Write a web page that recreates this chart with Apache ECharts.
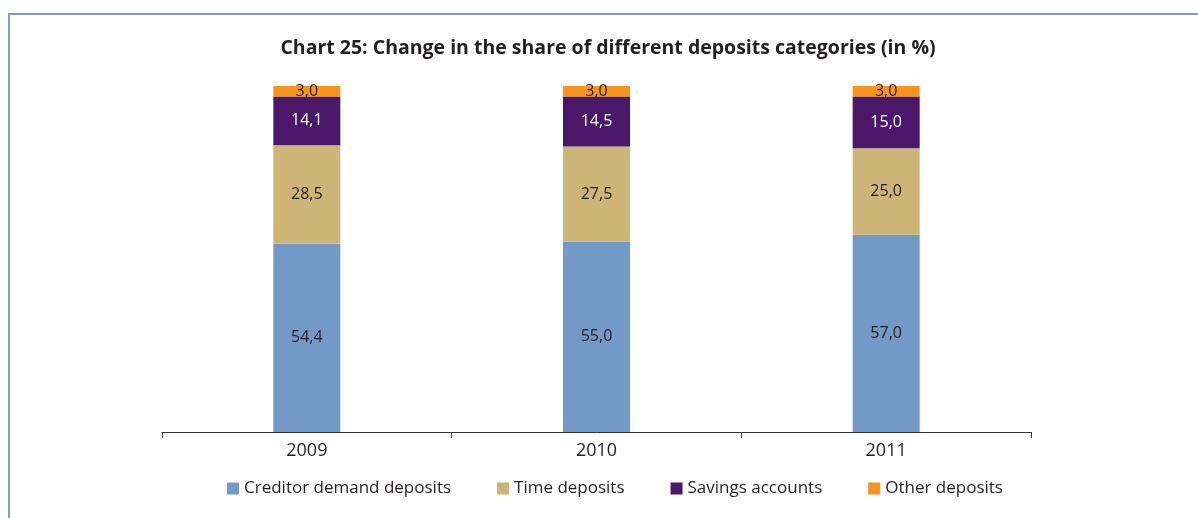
<!DOCTYPE html>
<html>
<head>
<meta charset="utf-8">
<script src="https://cdn.jsdelivr.net/npm/echarts@6/dist/echarts.min.js"></script>
<style>
    html, body { margin: 0; padding: 0; background: #fff; }
    #main { width: 1198px; height: 518px; }
</style>
</head>
<body>
<div id="main"></div>
<script>
    // data
    const years = ['2009', '2010', '2011'];
    const demandDeposits = [54.4, 55.0, 57.0];
    const timeDeposits = [28.5, 27.5, 25.0];
    const savingsAccounts = [14.1, 14.5, 15.0];
    const otherDeposits = [3.0, 3.0, 3.0];

    const fontFam = '"Open Sans", "Noto Sans", sans-serif';

    //数值格式 逗号小数
    const fmt = (p) => p.value.toFixed(1).replace('.', ',');

    function makeSeries(name, data, color, labelColor) {
        return {
            name: name,
            type: 'bar',
            stack: 'total',
            barWidth: 67,
            data: data,
            itemStyle: { color: color },
            label: {
                show: true,
                position: 'inside',
                formatter: fmt,
                color: labelColor,
                fontSize: 16,
                fontFamily: fontFam
            }
        };
    }

    const chart = echarts.init(document.getElementById('main'));
    chart.setOption({
        animation: false,
        title: {
            text: 'Chart 25: Change in the share of different deposits categories (in %)',
            left: 603,
            textAlign: 'center',
            top: 33,
            textStyle: { fontSize: 19.5, fontWeight: 'bold', color: '#231f20', fontFamily: fontFam }
        },
        graphic: [{
            type: 'polyline',
            shape: { points: [[9, 518], [9, 14], [1198, 14]] },
            style: { stroke: '#7b9cc9', lineWidth: 2, fill: null }
        }],
        legend: {
            bottom: 16,
            left: 222,
            itemWidth: 12,
            itemHeight: 12,
            itemGap: 46,
            icon: 'rect',
            textStyle: { fontSize: 17, color: '#231f20', fontFamily: fontFam }
        },
        grid: { left: 162, right: 167, top: 86, bottom: 86 },
        xAxis: {
            type: 'category',
            data: years,
            axisLine: { lineStyle: { color: '#333', width: 1 } },
            axisTick: { show: true, length: 6, lineStyle: { color: '#333' } },
            axisLabel: { fontSize: 18, color: '#231f20', margin: 10, fontFamily: fontFam }
        },
        yAxis: {
            type: 'value',
            min: 0,
            max: 100,
            show: false
        },
        series: [
            makeSeries('Creditor demand deposits', demandDeposits, '#7399c6', '#231f20'),
            makeSeries('Time deposits', timeDeposits, '#cdb577', '#231f20'),
            makeSeries('Savings accounts', savingsAccounts, '#4b1869', '#ffffff'),
            makeSeries('Other deposits', otherDeposits, '#f7941d', '#231f20')
        ]
    });
</script>
</body>
</html>
